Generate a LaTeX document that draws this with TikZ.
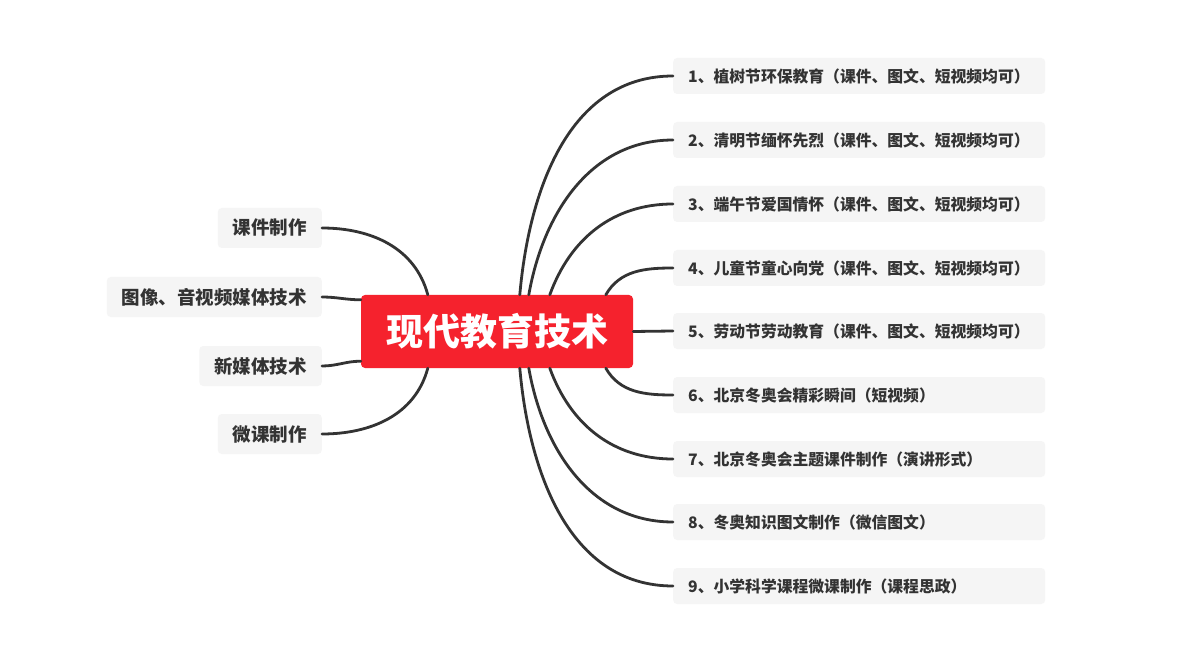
\documentclass[tikz,border=0pt]{standalone}
\usepackage{fontspec}
\newfontfamily\cjk{Noto Sans CJK SC}
\definecolor{mainred}{HTML}{F5222D}
\definecolor{boxgray}{HTML}{F5F5F5}
\definecolor{ink}{HTML}{333333}
\begin{document}
\begin{tikzpicture}[x=1pt,y=-1pt,
  centerbox/.style={fill=mainred,rounded corners=4pt,minimum width=272pt,minimum height=73pt,
    text=white,font=\cjk\bfseries\fontsize{37}{40}\selectfont,inner sep=0pt},
  leftbox/.style={fill=boxgray,rounded corners=4pt,minimum height=40pt,inner xsep=15pt,inner ysep=0pt,
    anchor=east,text=ink,font=\cjk\bfseries\fontsize{18.5}{22}\selectfont},
  rightbox/.style={fill=boxgray,rounded corners=4pt,minimum height=36pt,inner xsep=15pt,inner ysep=0pt,
    anchor=west,text width=342pt,align=left,text=ink,font=\cjk\bfseries\fontsize{15.8}{18}\selectfont},
  link/.style={draw=ink,line width=2.8pt,line cap=round}]
\useasboundingbox (0,0) rectangle (1191,660);
\fill[white] (0,0) rectangle (1191,660);

\node[centerbox] (c) at (497,331.5) {现代教育技术};

\node[leftbox] (l1) at (322,228) {课件制作};
\node[leftbox] (l2) at (322,297) {图像、音视频媒体技术};
\node[leftbox] (l3) at (322,366) {新媒体技术};
\node[leftbox] (l4) at (322,434) {微课制作};

\node[rightbox] (r1) at (673,76) {1、植树节环保教育（课件、图文、短视频均可）};
\node[rightbox] (r2) at (673,140) {2、清明节缅怀先烈（课件、图文、短视频均可）};
\node[rightbox] (r3) at (673,204) {3、端午节爱国情怀（课件、图文、短视频均可）};
\node[rightbox] (r4) at (673,268) {4、儿童节童心向党（课件、图文、短视频均可）};
\node[rightbox] (r5) at (673,331) {5、劳动节劳动教育（课件、图文、短视频均可）};
\node[rightbox] (r6) at (673,395) {6、北京冬奥会精彩瞬间（短视频）};
\node[rightbox] (r7) at (673,459) {7、北京冬奥会主题课件制作（演讲形式）};
\node[rightbox] (r8) at (673,522) {8、冬奥知识图文制作（微信图文）};
\node[rightbox] (r9) at (673,586) {9、小学科学课程微课制作（课程思政）};

% left connectors
\draw[link] (l1.east) to[out=0,in=105] ([xshift=67pt]c.north west);
\draw[link] (l2.east) to[out=0,in=180] ([yshift=-5pt]c.north west);
\draw[link] (l3.east) to[out=0,in=180] ([yshift=7pt]c.south west);
\draw[link] (l4.east) to[out=0,in=-105] ([xshift=67pt]c.south west);

% right connectors
\draw[link] ([xshift=159pt]c.north west) to[out=85,in=180] (r1.west);
\draw[link] ([xshift=168pt]c.north west) to[out=80,in=180] (r2.west);
\draw[link] ([xshift=189pt]c.north west) to[out=70,in=180] (r3.west);
\draw[link] ([xshift=245pt]c.north west) to[out=60,in=180] (r4.west);
\draw[link] (c.east) -- (r5.west);
\draw[link] ([xshift=245pt]c.south west) to[out=-60,in=180] (r6.west);
\draw[link] ([xshift=189pt]c.south west) to[out=-70,in=180] (r7.west);
\draw[link] ([xshift=168pt]c.south west) to[out=-80,in=180] (r8.west);
\draw[link] ([xshift=159pt]c.south west) to[out=-85,in=180] (r9.west);
\end{tikzpicture}
\end{document}
